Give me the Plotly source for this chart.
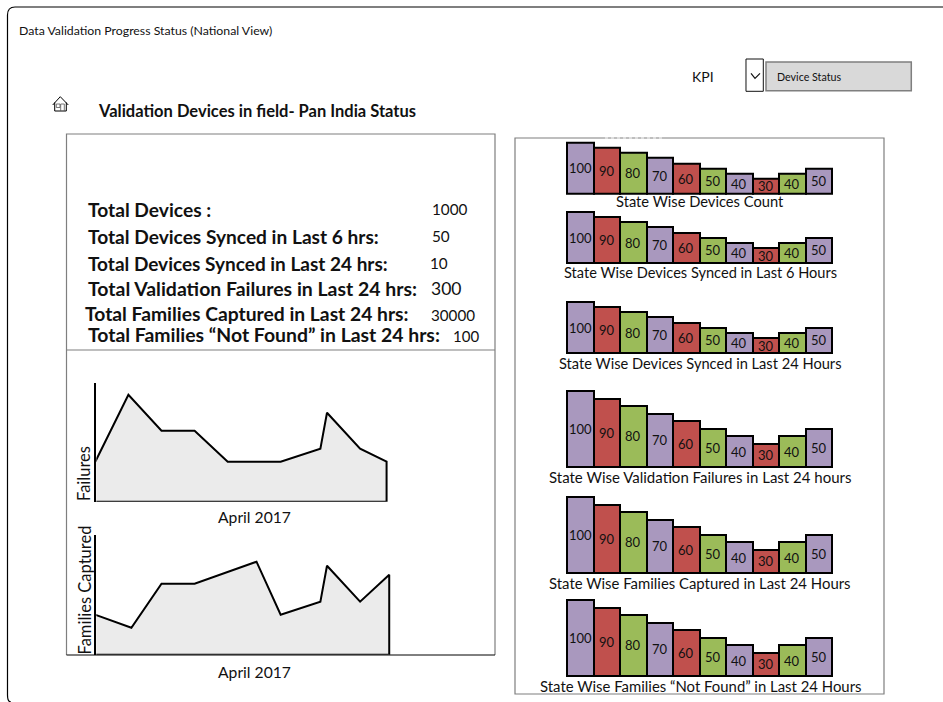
import plotly.graph_objects as go

W, H = 943, 702
FONT = "Lato"

# Values shared by every state-wise bar chart
state_index = list(range(10))
state_values = [100, 90, 80, 70, 60, 50, 40, 30, 40, 50]

PURPLE, RED, GREEN = "#A998BE", "#C0504D", "#9BBB59"
bar_colors = [PURPLE, RED, GREEN, PURPLE, RED, GREEN, PURPLE, RED, GREEN, PURPLE]

# Caption, baseline and 100-level pixel rows of each bar chart
bar_captions = [
    "State Wise Devices Count",
    "State Wise Devices Synced in Last 6 Hours",
    "State Wise Devices Synced in Last 24 Hours",
    "State Wise Validation Failures in Last 24 hours",
    "State Wise Families Captured in Last 24 Hours",
    "State Wise Families “Not Found” in Last 24 Hours",
]
bar_baselines = [194.0, 263.3, 353.3, 466.7, 572.7, 675.7]
bar_tops = [142.7, 212.0, 302.0, 391.0, 497.0, 600.0]
caption_rows = [200.5, 273, 363, 477, 583, 686]
caption_sizes = [14.7, 14.6, 14.65, 15, 14.9, 14.9]

# Daily trend series
failure_days = [0, 1, 2, 3, 4, 5.6, 6.8, 7, 8, 8.8]
failure_values = [40, 107, 71, 71, 40, 40, 53, 89, 53, 40]
family_days = [0, 1.09, 2, 3, 4.87, 5.6, 6.8, 7, 8, 8.88]
family_values = [40, 27, 71, 71, 93, 40, 53, 89, 53, 80]

# Summary block: label, value
summary_labels = [
    "Total Devices :",
    "Total Devices Synced in Last 6 hrs:",
    "Total Devices Synced in Last 24 hrs:",
    "Total Validation Failures in Last 24 hrs:",
    "Total Families Captured in Last 24 hrs:",
    "Total Families “Not Found” in Last 24 hrs:",
]
summary_values = ["1000", "50", "10", "300", "30000", "100"]
summary_label_x = [88.7, 88.7, 88, 88, 85.5, 88]
summary_label_y = [209.5, 236, 263, 288, 313, 335]
summary_label_sizes = [19.2, 19.15, 19.0, 19.45, 19.3, 19.4]
summary_value_x = [432, 432, 430, 431, 431, 453]
summary_value_y = [209.5, 236, 263, 288, 314.5, 335.5]
summary_value_sizes = [15.3, 15.3, 15.3, 17.5, 15.2, 15]


def px(x):
    return x / W


def py(y):
    return 1 - y / H


def note(text, x, y, size, bold=False, anchor="left", angle=0, color="#111111"):
    label = f"<b>{text}</b>" if bold else text
    nudge = 1.5 if anchor == "left" else 0
    return dict(
        text=label, x=px(x - nudge), y=py(y), xref="paper", yref="paper",
        xanchor=anchor, yanchor="middle", showarrow=False, textangle=angle,
        borderpad=0, font=dict(family=FONT, size=size, color=color),
    )


def path(points, close=False):
    body = " L ".join(f"{px(x):.5f},{py(y):.5f}" for x, y in points)
    return "M " + body + (" Z" if close else "")


def stroke(points, color="#000000", width=1.0, fill=None, close=False, dash=None):
    shape = dict(type="path", xref="paper", yref="paper", path=path(points, close),
                 line=dict(color=color, width=width, dash=dash or "solid"), layer="below")
    if fill:
        shape["fillcolor"] = fill
    return shape


fig = go.Figure()
axes = {}
annotations = []
shapes = []

# Outer page frame, open on the right and running off the bottom
frame = "M 1,{t:.5f} L {a:.5f},{t:.5f} Q {l:.5f},{t:.5f} {l:.5f},{c:.5f} L {l:.5f},{d:.5f} Q {l:.5f},{b:.5f} {e:.5f},{b:.5f}".format(
    t=py(7), a=px(15), l=px(7.5), c=py(15), d=py(695), b=py(702), e=px(11))
shapes.append(dict(type="path", xref="paper", yref="paper", path=frame,
                   line=dict(color="#000000", width=1.2), layer="below"))

# Left and right panels
GREY = "#7F7F7F"
shapes.append(stroke([(66.5, 655), (66.5, 134), (495, 134), (495, 655)], GREY, 1.2))
shapes.append(stroke([(66.5, 655), (495, 655)], "#000000", 1))
shapes.append(stroke([(66.5, 350), (495, 350)], GREY, 1.2))
shapes.append(stroke([(515, 138), (884, 138), (884, 694), (515, 694)], GREY, 1.2, close=True))
shapes.append(stroke([(605, 138), (665, 138)], "#FFFFFF", 1, dash="dot"))

# Home icon
shapes.append(stroke([(52.7, 105), (60.3, 96.7), (68.3, 105)], "#000000", 1))
shapes.append(stroke([(54.7, 102.5), (54.7, 111), (66.3, 111), (66.3, 102.5)], "#000000", 1))
shapes.append(stroke([(56.3, 104), (60, 104), (60, 107.5), (56.3, 107.5)], "#555555", 0.8, close=True))
shapes.append(stroke([(60.7, 111), (60.7, 104), (64.3, 104), (64.3, 111)], "#555555", 0.8))

# KPI selector
shapes.append(stroke([(746, 59), (763.3, 59), (763.3, 91.3), (746, 91.3)], "#111111", 1, fill="#FFFFFF", close=True))
shapes.append(stroke([(751, 73.3), (755, 78.3), (760, 73.3)], "#111111", 1.2))
shapes.append(stroke([(766, 62), (911.3, 62), (911.3, 90.7), (766, 90.7)], GREY, 1.5, fill="#D9D9D9", close=True))

annotations.append(note("Data Validation Progress Status (National View)", 19, 30.7, 12.3))
annotations.append(note("Validation Devices in field- Pan India Status", 98.5, 111, 16.5, bold=True))
annotations.append(note("KPI", 692, 76.5, 14))
annotations.append(note("Device Status", 777.5, 76.5, 10.7))

for label, lx, ly, ls in zip(summary_labels, summary_label_x, summary_label_y, summary_label_sizes):
    annotations.append(note(label, lx, ly, ls, bold=True))
for value, vx, vy, vs in zip(summary_values, summary_value_x, summary_value_y, summary_value_sizes):
    annotations.append(note(value, vx, vy, vs))

# Bar charts
BAR_LEFT, BAR_RIGHT = 567.0, 832.0
PAD = 3.0
per_bar = (BAR_RIGHT - BAR_LEFT) / len(state_values)
for i, (base, top, cap, row, size) in enumerate(
        zip(bar_baselines, bar_tops, bar_captions, caption_rows, caption_sizes)):
    n = i + 1
    xname, yname = f"x{n}", f"y{n}"
    fig.add_trace(go.Bar(
        x=state_index, y=state_values, width=1.0, xaxis=xname, yaxis=yname,
        marker=dict(color=bar_colors, line=dict(color="#000000", width=2)),
        showlegend=False, hoverinfo="skip",
    ))
    # Value labels sit at the middle of each bar
    for idx, value in zip(state_index, state_values):
        annotations.append(dict(
            text=str(value), x=idx, y=value / 2, xref=xname, yref=yname,
            xanchor="center", yanchor="middle", showarrow=False, borderpad=0,
            font=dict(family=FONT, size=13, color="#111111"),
        ))
    unit = (base - top) / 100
    axes[f"xaxis{n}"] = dict(
        domain=[px(BAR_LEFT - PAD), px(BAR_RIGHT + PAD)],
        range=[-0.5 - PAD / per_bar, 9.5 + PAD / per_bar],
        visible=False, fixedrange=True, anchor=yname,
    )
    axes[f"yaxis{n}"] = dict(
        domain=[py(base + PAD), py(top - PAD)],
        range=[-PAD / unit, 100 + PAD / unit],
        visible=False, fixedrange=True, anchor=xname,
    )
    annotations.append(note(cap, (BAR_LEFT + BAR_RIGHT) / 2 + 0.5, row, size, anchor="center"))


# Trend charts: closed outline down to the baseline, with the vertical axis on the left
DAY_PX = 33.1
AXIS_INSET = 1.0


def add_trend(n, days, values, x0, x1, base, top, title, title_y, month_y):
    xname, yname = f"x{n}", f"y{n}"
    fig.add_trace(go.Scatter(
        x=days + [days[-1], days[0]], y=values + [0, 0], mode="lines",
        line=dict(color="#000000", width=2), fill="toself", fillcolor="#EBEBEB",
        xaxis=xname, yaxis=yname, showlegend=False, hoverinfo="skip", cliponaxis=False,
    ))
    axes[f"xaxis{n}"] = dict(domain=[px(x0 + AXIS_INSET), px(x1)],
                             range=[AXIS_INSET / DAY_PX, (x1 - x0) / DAY_PX], visible=False,
                             fixedrange=True, anchor=yname)
    axes[f"yaxis{n}"] = dict(domain=[py(base), py(top)], range=[0, base - top],
                             showline=True, linecolor="#000000", linewidth=2,
                             showgrid=False, zeroline=False, showticklabels=False, ticks="",
                             fixedrange=True, anchor=xname)
    annotations.append(note(title, 84, title_y, 16.5, anchor="center", angle=-90))
    annotations.append(note("April 2017", 254, month_y, 15.7, anchor="center"))


add_trend(7, failure_days, failure_values, 95.3, 400, 501.7, 382.7, "Failures", 474, 517)
add_trend(8, family_days, family_values, 95.3, 400, 654.7, 535, "Families Captured", 590.5, 672)

fig.update_layout(
    width=W, height=H, autosize=False,
    margin=dict(l=0, r=0, t=0, b=0, pad=0),
    paper_bgcolor="#FFFFFF", plot_bgcolor="rgba(0,0,0,0)",
    bargap=0, showlegend=False,
    annotations=annotations, shapes=shapes,
    **axes,
)
fig.write_html("out.html", config=dict(displayModeBar=False))
